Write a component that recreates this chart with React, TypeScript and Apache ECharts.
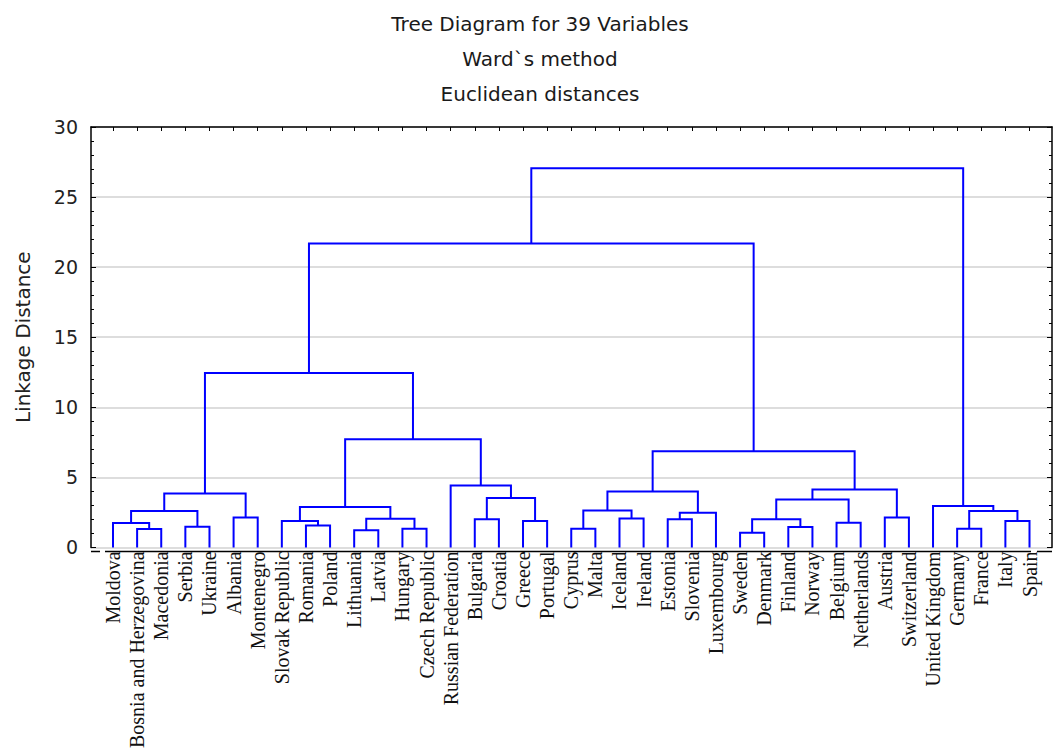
import React, { useEffect, useRef } from "react";
import * as echarts from "echarts";

// Leaves (in dendrogram order)
const leafNames: string[] = [
  "Moldova", "Bosnia and Herzegovina", "Macedonia", "Serbia", "Ukraine", "Albania",
  "Montenegro", "Slovak Republic", "Romania", "Poland", "Lithuania", "Latvia",
  "Hungary", "Czech Republic", "Russian Federation", "Bulgaria", "Croatia", "Greece",
  "Portugal", "Cyprus", "Malta", "Iceland", "Ireland", "Estonia", "Slovenia",
  "Luxembourg", "Sweden", "Denmark", "Finland", "Norway", "Belgium", "Netherlands",
  "Austria", "Switzerland", "United Kingdom", "Germany", "France", "Italy", "Spain",
];

// Merges: node ids 0..38 are leaves, merge k creates node 39 + k
const mergeLeft: number[] = [1, 0, 3, 40, 5, 42, 8, 7, 10, 12, 47, 46, 15, 17, 51, 14, 50, 44, 19, 21, 57, 23, 60, 59, 26, 28, 63, 30, 65, 32, 67, 62, 56, 35, 37, 72, 34, 71];
const mergeRight: number[] = [2, 39, 4, 41, 6, 43, 9, 45, 11, 13, 48, 49, 16, 18, 52, 53, 54, 55, 20, 22, 58, 24, 25, 61, 27, 29, 64, 31, 66, 33, 68, 69, 70, 36, 38, 73, 74, 75];
const mergeHeight: number[] = [1.31, 1.74, 1.48, 2.59, 2.14, 3.84, 1.57, 1.88, 1.22, 1.33, 2.04, 2.89, 2.0, 1.88, 3.53, 4.41, 7.72, 12.45, 1.33, 2.07, 2.64, 2.0, 2.47, 3.99, 1.05, 1.45, 2.0, 1.76, 3.42, 2.14, 4.13, 6.87, 21.69, 1.33, 1.88, 2.59, 2.95, 27.06];

const titleLines: string[] = ["Tree Diagram for 39 Variables", "Ward`s method", "Euclidean distances"];
const yAxisName = "Linkage Distance";

export default function App() {
  const ref = useRef<HTMLDivElement>(null);

  useEffect(() => {
    if (!ref.current) return;
    const chart = echarts.init(ref.current, undefined, { renderer: "svg" });

    // layout
    const W = 1058, H = 751;
    const gLeft = 91, gRight = 1052, gTop = 127, gBottom = 551.5;
    const firstLeafPx = 113, lastLeafPx = 1029.5;
    const step = (lastLeafPx - firstLeafPx) / (leafNames.length - 1);
    const xMin = -(firstLeafPx - gLeft) / step;
    const xMax = leafNames.length - 1 + (gRight - lastLeafPx) / step;

    // node positions
    const nodeX: number[] = leafNames.map((_, i) => i);
    const nodeY: number[] = leafNames.map(() => 0);
    const links: number[][] = [];
    for (let k = 0; k < mergeHeight.length; k++) {
      const a = mergeLeft[k], b = mergeRight[k], h = mergeHeight[k];
      links.push([nodeX[a], nodeY[a], nodeX[b], nodeY[b], h]);
      nodeX.push((nodeX[a] + nodeX[b]) / 2);
      nodeY.push(h);
    }
    const leafIdx = leafNames.map((_, i) => i);

    const black = "#000";
    const option: any = {
      animation: false,
      backgroundColor: "#ffffff",
      grid: { left: gLeft, right: W - gRight, top: gTop, bottom: H - gBottom, containLabel: false },
      xAxis: [
        {
          type: "value", position: "bottom", min: xMin, max: xMax,
          axisLine: { show: false, onZero: false }, axisTick: { show: false }, splitLine: { show: false },
          axisLabel: {
            customValues: leafIdx,
            formatter: (v: number) => leafNames[Math.round(v)] ?? "",
            rotate: 90, margin: 4, fontFamily: "Liberation Serif", fontSize: 20, color: "#111",
          },
        },
        {
          type: "value", position: "top", min: xMin, max: xMax,
          axisLine: { show: true, onZero: false, lineStyle: { color: black, width: 1.5 } },
          axisTick: { show: true, inside: true, length: 4, customValues: leafIdx, lineStyle: { color: black } },
          axisLabel: { show: false }, splitLine: { show: false },
        },
      ],
      yAxis: [
        {
          type: "value", position: "left", min: 0, max: 30, interval: 5,
          axisLine: { show: true, onZero: false, lineStyle: { color: black, width: 1.5 } },
          axisTick: { show: true, inside: true, length: 5, lineStyle: { color: black } },
          minorTick: { show: true, splitNumber: 5, length: 3, lineStyle: { color: black } },
          axisLabel: { margin: 13, fontFamily: "DejaVu Sans", fontSize: 19, color: "#222" },
          splitLine: { show: true, lineStyle: { color: "#d2d2d2", width: 1.5 } },
          name: yAxisName, nameLocation: "middle", nameGap: 58, nameRotate: 90,
          nameTextStyle: { fontFamily: "DejaVu Sans", fontSize: 20, color: "#222" },
        },
        {
          type: "value", position: "right", min: 0, max: 30, interval: 5,
          axisLine: { show: true, onZero: false, lineStyle: { color: black, width: 1.5 } },
          axisTick: { show: true, inside: true, length: 5, lineStyle: { color: black } },
          minorTick: { show: true, splitNumber: 5, length: 3, lineStyle: { color: black } },
          axisLabel: { show: false }, splitLine: { show: false },
        },
      ],
      graphic: [
        ...titleLines.map((t, i) => ({
          type: "text", x: 540, y: 24 + i * 35, silent: true,
          style: { text: t, fontFamily: "DejaVu Sans", fontSize: 20, fill: "#1a1a1a", align: "center", verticalAlign: "middle" },
        })),
        { type: "line", shape: { x1: gLeft, y1: gBottom, x2: 100, y2: gBottom }, style: { stroke: black, lineWidth: 1.5 } },
        { type: "line", shape: { x1: 105, y1: gBottom, x2: lastLeafPx + 1.5, y2: gBottom }, style: { stroke: black, lineWidth: 1.5 } },
        { type: "line", shape: { x1: 1037, y1: gBottom, x2: gRight, y2: gBottom }, style: { stroke: black, lineWidth: 1.5 } },
      ],
      series: [
        {
          type: "custom",
          xAxisIndex: 0, yAxisIndex: 0,
          clip: false,
          encode: { x: [0, 2], y: [1, 3, 4] },
          data: links,
          renderItem: (_params: any, api: any) => {
            const xa = api.value(0), ya = api.value(1), xb = api.value(2), yb = api.value(3), h = api.value(4);
            const p1 = api.coord([xa, ya]);
            const p2 = api.coord([xa, h]);
            const p3 = api.coord([xb, h]);
            const p4 = api.coord([xb, yb]);
            return {
              type: "polyline",
              shape: { points: [p1, p2, p3, p4] },
              style: { stroke: "#0000ff", lineWidth: 2, fill: "none" },
            };
          },
        },
      ],
    };
    chart.setOption(option);
    return () => chart.dispose();
  }, []);

  return <div ref={ref} style={{ position: "fixed", left: 0, top: 0, width: 1058, height: 751 }} />;
}
